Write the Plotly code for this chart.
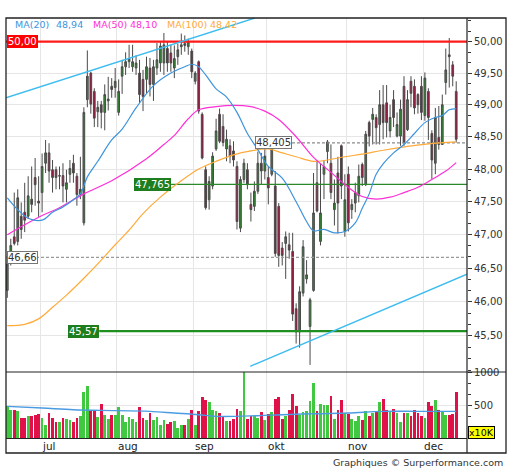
import plotly.graph_objects as go
import numpy as np

# ---------------- data ----------------
opens = [46.17,46.64,46.97,46.90,47.28,47.34,47.28,47.54,47.87,47.51,
         47.64,48.09,48.25,47.99,47.99,47.89,47.90,47.69,47.92,48.09,
         47.89,47.61,47.18,49.08,49.50,49.21,48.89,49.00,48.88,49.06,
         49.29,49.27,48.88,49.45,49.60,49.68,49.60,49.58,49.50,49.40,
         49.40,49.58,49.32,49.58,49.66,49.66,49.89,49.82,49.58,49.76,
         49.92,49.97,49.92,49.85,49.37,49.68,48.85,47.99,47.53,47.74,
         48.31,48.85,48.66,48.31,48.36,48.28,48.04,47.10,47.84,47.99,
         47.46,47.43,47.66,48.09,47.97,47.87,47.92,47.74,47.43,46.80,
         46.87,46.85,46.75,45.90,45.56,46.13,46.34,45.64,46.17,47.79,
         46.90,47.92,48.27,48.09,47.38,47.94,48.36,47.05,47.92,47.38,
         47.48,47.59,48.07,47.76,48.72,48.77,48.80,48.69,49.00,49.03,
         48.59,49.08,48.51,48.51,49.29,48.61,49.37,49.29,49.16,49.29,
         48.83,49.21,48.55,48.09,48.49,48.38,49.35,49.79,49.63,49.21]
highs = [46.69,46.94,47.64,47.69,47.49,47.79,47.89,48.04,48.17,47.89,
         48.24,48.45,48.40,48.14,48.04,48.04,48.09,47.99,48.14,48.22,
         47.94,48.19,48.96,49.86,49.52,49.26,49.06,49.06,49.32,49.44,
         49.42,49.58,49.40,49.71,49.83,49.95,49.95,49.78,49.71,49.55,
         49.76,49.74,49.71,49.98,50.00,50.14,50.00,49.95,49.94,49.97,
         50.13,50.10,50.05,49.89,49.53,49.70,48.88,48.04,47.89,48.26,
         48.78,48.94,48.85,48.61,48.46,48.43,48.12,47.89,48.16,48.09,
         47.64,47.81,48.27,48.25,48.31,48.04,48.405,47.97,47.48,46.89,
         47.05,47.03,47.03,45.98,46.23,46.92,46.62,46.06,47.94,48.14,
         48.09,48.14,48.45,48.38,47.84,48.19,48.38,47.92,48.04,47.54,
         47.79,48.07,48.10,48.59,48.75,48.95,48.85,49.23,49.31,49.31,
         49.00,49.23,48.88,49.08,49.45,49.23,49.45,49.40,49.18,49.45,
         49.51,49.26,48.60,48.95,48.98,49.16,49.89,50.06,49.69,49.37]
lows = [46.06,46.54,46.84,46.84,46.94,47.04,47.24,47.34,47.44,47.27,
        47.34,47.94,47.79,47.64,47.69,47.69,47.49,47.49,47.79,47.79,
        47.44,47.54,47.14,48.96,48.86,48.65,48.65,48.63,48.60,48.91,
        49.11,49.11,48.83,49.17,49.47,49.58,49.52,49.47,49.03,48.90,
        49.18,49.13,49.06,49.47,49.52,49.47,49.52,49.52,49.42,49.63,
        49.79,49.84,49.79,49.42,49.32,48.86,48.15,47.38,47.38,47.69,
        48.28,48.40,48.35,48.12,48.09,48.04,47.08,47.04,47.79,47.69,
        47.20,47.36,47.62,47.76,47.84,47.46,47.89,46.67,46.52,46.54,
        46.34,46.64,45.72,45.39,45.33,46.08,46.27,45.08,46.15,47.34,
        46.84,47.54,48.09,47.54,47.14,47.02,47.54,46.97,47.05,47.24,
        47.34,47.49,47.74,47.74,48.35,48.38,48.38,48.38,48.46,48.49,
        48.49,48.65,48.49,48.36,48.36,48.59,48.96,48.85,48.86,48.76,
        48.75,48.45,47.85,47.92,48.30,48.38,49.16,49.27,49.29,48.41]
closes = [46.56,46.84,46.87,47.56,47.08,47.22,47.59,47.46,47.76,47.48,
          48.04,48.25,47.97,47.87,47.87,47.90,47.74,47.79,48.01,47.94,
          47.61,47.69,48.88,49.45,49.01,48.79,48.96,48.88,49.16,49.09,
          49.24,49.37,49.21,49.60,49.68,49.73,49.68,49.66,49.16,49.13,
          49.60,49.32,49.60,49.71,49.93,49.95,49.66,49.66,49.73,49.87,
          49.95,49.94,50.00,49.52,49.50,48.90,48.17,47.41,47.81,48.20,
          48.59,48.43,48.41,48.46,48.20,48.14,47.20,47.84,48.09,47.76,
          47.38,47.66,48.09,47.97,48.20,47.71,48.31,46.72,46.69,46.69,
          46.97,46.77,45.82,45.56,46.15,46.82,46.40,46.03,47.33,47.36,
          47.33,48.04,48.42,47.64,47.48,47.48,47.74,47.53,47.18,47.46,
          47.64,47.89,47.87,48.54,48.51,48.85,48.64,49.00,48.72,48.72,
          48.80,48.80,48.69,48.93,48.41,49.08,49.18,48.95,49.00,48.88,
          49.42,48.80,48.14,48.80,48.38,49.00,49.55,49.76,49.45,48.46]
volumes = [483,433,433,408,308,308,333,345,358,370,
           308,209,383,308,244,244,308,296,284,244,
           308,345,706,791,408,433,320,522,358,296,
           358,358,473,358,244,320,296,244,468,308,
           284,383,284,320,196,284,221,244,256,159,
           209,209,296,433,209,408,617,582,542,433,
           408,383,333,259,259,296,445,408,1000,296,
           343,333,308,393,284,368,393,592,622,294,
           333,423,667,483,358,393,408,557,841,408,
           522,507,498,632,294,433,572,383,368,294,
           259,343,284,408,333,383,408,547,592,433,
           408,443,383,244,383,383,343,433,383,343,
           308,547,493,572,433,408,358,358,373,692]
idx = list(range(len(opens)))

ma20_x = [0,3,6,10,13,16,19,21,23,26,30,33,37,42,47,51,53,55,57,60,63,66,69,72,75,79,83,86,88,91,94,97,100,102,104,106,108,111,114,117,120,123,125,127,129]
ma20_y = [47.56,47.38,47.25,47.22,47.34,47.42,47.53,47.62,47.88,48.12,48.45,48.62,48.95,49.30,49.50,49.60,49.64,49.60,49.47,49.25,49.12,48.88,48.55,48.30,48.04,47.86,47.50,47.20,47.06,47.08,47.03,47.05,47.18,47.40,47.62,47.92,48.08,48.25,48.38,48.55,48.72,48.80,48.83,48.92,48.94]
ma50_x = [0,5,10,15,22,30,40,45,48,52,55,60,65,70,74,78,83,88,93,98,102,106,110,114,118,122,126,129]
ma50_y = [47.00,47.15,47.29,47.41,47.62,47.82,48.16,48.38,48.52,48.78,48.92,48.97,48.99,48.97,48.90,48.77,48.50,48.18,47.95,47.72,47.58,47.54,47.57,47.64,47.72,47.84,47.97,48.10]
ma100_x = [0,5,9,13,17,22,27,31,35,39,44,50,55,60,65,70,75,79,83,88,92,97,102,108,115,121,129]
ma100_y = [45.65,45.67,45.75,45.92,46.10,46.35,46.62,46.85,47.07,47.32,47.57,47.82,48.00,48.12,48.22,48.28,48.31,48.25,48.19,48.12,48.14,48.19,48.23,48.29,48.35,48.39,48.42]
volma_x = [0,10,19,27,41,48,55,60,72,79,89,98,108,118,129]
volma_y = [483,458,433,423,408,383,358,333,343,358,373,383,408,408,408]

month_labels = ["jul", "aug", "sep", "okt", "nov", "dec"]
month_start = [10, 32, 54, 75, 98, 120]

legend_names = ["MA(20)", "MA(50)", "MA(100)"]
legend_values = ["48,94", "48,10", "48,42"]

upper_trend_x = [-0.4, 71.1]
upper_trend_y = [49.11, 50.38]
lower_trend_x = [69.8, 132.1]
lower_trend_y = [45.06, 46.41]

price_ticks = [45.5, 46.0, 46.5, 47.0, 47.5, 48.0, 48.5, 49.0, 49.5, 50.0]

# ---------------- geometry helpers ----------------
L, R, T, B = 6, 467, 18, 453
def py(p):
    return (B - p) / (B - T)
def pxx(p):
    return (p - L) / (R - L)

XMIN, XMAX = -0.374, 132.1
FONT = "DejaVu Sans"
GRID = "#e6e6e6"
C_MA20, C_MA50, C_MA100 = "#3d94dd", "#ff2fd6", "#ffaa3a"
GREEN_V, RED_V = "#40c840", "#e01048"

fig = go.Figure()

fig.add_trace(go.Candlestick(
    x=idx, open=opens, high=highs, low=lows, close=closes,
    increasing=dict(fillcolor="#2e8b2e", line=dict(color="#4a4a4a", width=1)),
    decreasing=dict(fillcolor="#a8113f", line=dict(color="#4a4a4a", width=1)),
    whiskerwidth=0, showlegend=False, xaxis="x", yaxis="y"))

def hline(x0, x1, v, color, width, dash="solid"):
    fig.add_trace(go.Scatter(x=[x0, x1], y=[v, v], mode="lines",
                             line=dict(color=color, width=width, dash=dash),
                             showlegend=False, hoverinfo="skip", xaxis="x", yaxis="y"))

hline(XMIN, XMAX, 46.66, "#9a9a9a", 1.2, "3px,2px")
hline(81.8, XMAX, 48.405, "#8a8a8a", 1.2, "3px,2px")
hline(47.0, XMAX, 47.765, "#2a8a2a", 1.3)
hline(26.4, XMAX, 45.57, "#1f8f1f", 2.2)
hline(XMIN, XMAX, 50.00, "#ff1a1a", 2.2)

for xs, ys, c in [(ma100_x, ma100_y, C_MA100), (ma50_x, ma50_y, C_MA50), (ma20_x, ma20_y, C_MA20)]:
    fig.add_trace(go.Scatter(x=xs, y=ys, mode="lines", line=dict(color=c, width=1.2, shape="spline"),
                             showlegend=False, hoverinfo="skip", xaxis="x", yaxis="y"))

for xs, ys in [(upper_trend_x, upper_trend_y), (lower_trend_x, lower_trend_y)]:
    fig.add_trace(go.Scatter(x=xs, y=ys, mode="lines", line=dict(color="#3cbcf0", width=1.4),
                             showlegend=False, hoverinfo="skip", xaxis="x", yaxis="y"))

vcolors = [GREEN_V if c >= o else RED_V for o, c in zip(opens, closes)]
fig.add_trace(go.Bar(x=idx, y=volumes, marker=dict(color=vcolors, line=dict(width=0)),
                     width=0.8, showlegend=False, xaxis="x2", yaxis="y2"))
fig.add_trace(go.Scatter(x=volma_x, y=volma_y, mode="lines", line=dict(color="#4a9be2", width=1.4, shape="spline"),
                         showlegend=False, hoverinfo="skip", xaxis="x2", yaxis="y2"))

grid_x = [m - 0.5 for m in month_start]
minor_price = [45.0 + k / 6 for k in range(0, 34)]

fig.update_layout(
    width=512, height=470,
    margin=dict(l=L, r=512 - R, t=T, b=470 - B, pad=0),
    paper_bgcolor="white", plot_bgcolor="white",
    separators=",.",
    font=dict(family=FONT, size=10, color="#333333"),
    showlegend=False,
    bargap=0,
    xaxis=dict(domain=[0, 1], range=[XMIN, XMAX], anchor="y", showticklabels=False, ticks="",
               tickmode="array", tickvals=grid_x, showgrid=True, gridcolor=GRID, gridwidth=1,
               zeroline=False, showline=False, rangeslider=dict(visible=False)),
    xaxis2=dict(domain=[0, 1], range=[XMIN, XMAX], anchor="y2", matches="x", showticklabels=False, ticks="",
                tickmode="array", tickvals=grid_x, showgrid=True, gridcolor=GRID, gridwidth=1,
                zeroline=False, showline=False),
    yaxis=dict(domain=[py(372), 1], type="log", range=[np.log10(44.978), np.log10(50.381)],
               side="right", anchor="x", tickmode="array", tickvals=price_ticks, tickformat=".2f",
               ticks="outside", ticklen=4, tickcolor="#333333", showgrid=True, gridcolor=GRID,
               zeroline=False, showline=False, tickfont=dict(size=10, color="#333333"),
               minor=dict(tickmode="array", tickvals=minor_price, ticks="outside", ticklen=3,
                          tickcolor="#333333", showgrid=False)),
    yaxis2=dict(domain=[py(438.5), py(372)], range=[0, 1000], side="right", anchor="x2",
                tickmode="array", tickvals=[500, 1000], ticktext=["500", "1000"],
                ticks="outside", ticklen=4, tickcolor="#333333", showgrid=True, gridcolor=GRID,
                zeroline=False, showline=False, tickfont=dict(size=10, color="#333333"),
                minor=dict(tickmode="array", tickvals=[166.7, 333.3, 666.7, 833.3], ticks="outside",
                           ticklen=3, tickcolor="#333333", showgrid=False)),
)

shapes = [
    dict(type="rect", xref="paper", yref="paper", x0=0, x1=pxx(506), y0=0, y1=1,
         line=dict(color="#222222", width=1.3), fillcolor="rgba(0,0,0,0)", layer="above"),
    dict(type="line", xref="paper", yref="paper", x0=1, x1=1, y0=0, y1=1,
         line=dict(color="#222222", width=1.2), layer="above"),
    dict(type="line", xref="paper", yref="paper", x0=0, x1=pxx(506), y0=py(372), y1=py(372),
         line=dict(color="#222222", width=1.2), layer="above"),
    dict(type="line", xref="paper", yref="paper", x0=0, x1=1, y0=py(438.5), y1=py(438.5),
         line=dict(color="#222222", width=1.2), layer="above"),
]
fig.update_layout(shapes=shapes)

ann = []
leg_px = [12.7, 54, 91, 128, 165, 208]
leg_txt = [legend_names[0], legend_values[0], legend_names[1], legend_values[1], legend_names[2], legend_values[2]]
leg_col = [C_MA20, C_MA20, C_MA50, C_MA50, C_MA100, C_MA100]
for p, t, c in zip(leg_px, leg_txt, leg_col):
    ann.append(dict(xref="paper", yref="paper", x=pxx(p), y=py(25), xanchor="left", yanchor="middle",
                    text=t, showarrow=False, font=dict(size=9.5, color=c, family=FONT)))

def lab(x, v, text, anchor, bg, fg, border):
    ann.append(dict(xref="x", yref="y", x=x, y=np.log10(v), xanchor=anchor, yanchor="middle",
                    text=text, showarrow=False, bgcolor=bg, bordercolor=border, borderwidth=1,
                    borderpad=0, font=dict(size=10, color=fg, family=FONT)))

lab(-0.1, 50.00, "50,00", "left", "#ff0000", "white", "#ff0000")
lab(47.0, 47.765, "47,765", "right", "#1e7e1e", "white", "#1e7e1e")
lab(26.4, 45.57, "45,57", "right", "#1e7e1e", "white", "#1e7e1e")
lab(-0.1, 46.66, "46,66", "left", "white", "#333333", "#777777")
lab(81.8, 48.405, "48,405", "right", "white", "#333333", "#777777")

for m, t in zip(grid_x, month_labels):
    ann.append(dict(xref="x", yref="paper", x=m - 0.2, y=py(446), xanchor="left", yanchor="middle",
                    text=t, showarrow=False, font=dict(size=10.5, color="#222222", family=FONT)))

ann.append(dict(xref="paper", yref="paper", x=pxx(467.5), y=py(432.5), xanchor="left", yanchor="middle",
                text="x10K", showarrow=False, bgcolor="#ffff00", bordercolor="#000000", borderwidth=1,
                borderpad=0, font=dict(size=9.5, color="#000000", family=FONT)))

ann.append(dict(xref="paper", yref="paper", x=pxx(505), y=py(462), xanchor="right", yanchor="middle",
                text="Graphiques © Surperformance.com", showarrow=False,
                font=dict(size=9.5, color="#333333", family=FONT)))

fig.update_layout(annotations=ann)
fig.write_html("out.html", config={"displayModeBar": False},
               post_script="document.body.style.margin='0px';document.body.style.padding='0px';")
